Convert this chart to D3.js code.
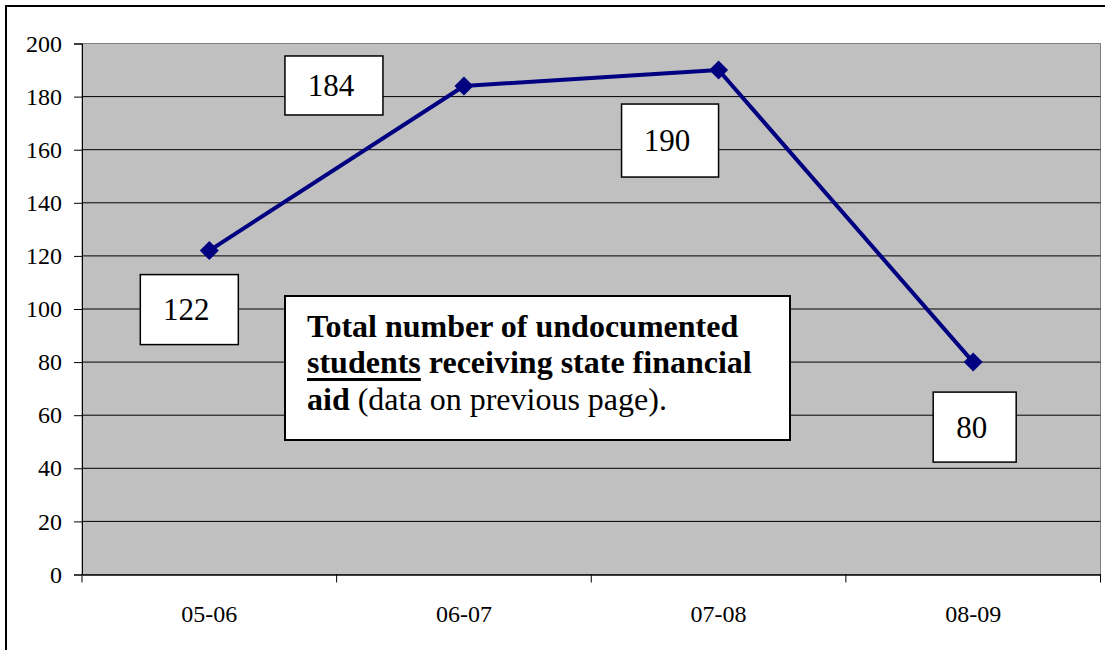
<!DOCTYPE html>
<html>
<head>
<meta charset="utf-8">
<script src="https://cdn.jsdelivr.net/npm/d3@7"></script>
<style>
  html, body { margin: 0; padding: 0; background: #fff; }
  svg { display: block; }
  text { font-family: "Liberation Serif", "Times New Roman", serif; fill: #000; }
</style>
</head>
<body>
<svg id="chart" width="1110" height="650"></svg>
<script>
// School years and number of undocumented students receiving state aid
const years = ["05-06", "06-07", "07-08", "08-09"];
const students = [122, 184, 190, 80];
const yTicks = [0, 20, 40, 60, 80, 100, 120, 140, 160, 180, 200];

// Where each value callout sits relative to its point (left, top, width, height)
const calloutPlacement = [
  { dx: -69, dy: 24, w: 98, h: 70 },
  { dx: -179, dy: -30, w: 98, h: 59 },
  { dx: -97, dy: 34, w: 97, h: 73 },
  { dx: -40, dy: 30, w: 83, h: 70 }
];

const svg = d3.select("#chart");
const plot = { left: 82, right: 1100.5, top: 43.5, bottom: 574.5 };

const x = d3.scaleBand().domain(years).range([plot.left, plot.right]).padding(0);
const y = d3.scaleLinear().domain([0, 200]).range([plot.bottom, plot.top]);

// Outer frame (only the top and left edges fall inside the page)
svg.append("line").attr("x1", 6).attr("x2", 1105).attr("y1", 6).attr("y2", 6)
  .attr("stroke", "#000").attr("stroke-width", 2);
svg.append("line").attr("x1", 6).attr("x2", 6).attr("y1", 5).attr("y2", 650)
  .attr("stroke", "#000").attr("stroke-width", 2);

// Plot area
svg.append("rect")
  .attr("x", plot.left).attr("y", plot.top)
  .attr("width", plot.right - plot.left).attr("height", plot.bottom - plot.top)
  .attr("fill", "#c0c0c0").attr("stroke", "#808080").attr("stroke-width", 1);

// Horizontal gridlines
svg.append("g").selectAll("line")
  .data(yTicks.filter(v => v > 0 && v < 200))
  .join("line")
  .attr("x1", plot.left).attr("x2", plot.right)
  .attr("y1", d => y(d)).attr("y2", d => y(d))
  .attr("stroke", "#000").attr("stroke-width", 1);

// Y axis
const yAxis = svg.append("g")
  .attr("transform", `translate(${plot.left},0)`)
  .call(d3.axisLeft(y).tickValues(yTicks).tickSize(8).tickPadding(12));
yAxis.select(".domain").attr("stroke", "#000");
yAxis.selectAll(".tick line").attr("stroke", "#000");
yAxis.selectAll("text")
  .style("font-family", "'Liberation Serif', serif").style("font-size", "24px").attr("fill", "#000");

// X axis: category labels centred, ticks at the category boundaries
const xAxis = svg.append("g")
  .attr("transform", `translate(0,${plot.bottom})`)
  .call(d3.axisBottom(x).tickSize(0).tickPadding(30));
xAxis.select(".domain").attr("stroke", "#000").attr("stroke-width", 1.5);
xAxis.selectAll("text")
  .style("font-family", "'Liberation Serif', serif").style("font-size", "24px").attr("fill", "#000");
const edges = years.map(d => x(d)).concat([x(years[years.length - 1]) + x.bandwidth()]);
svg.append("g").selectAll("line")
  .data(edges)
  .join("line")
  .attr("x1", d => d).attr("x2", d => d)
  .attr("y1", plot.bottom).attr("y2", plot.bottom + 8)
  .attr("stroke", "#000").attr("stroke-width", 1);

// Series line
const pts = years.map((d, i) => ({ year: d, value: students[i], px: x(d) + x.bandwidth() / 2, py: y(students[i]) }));
svg.append("path")
  .datum(pts)
  .attr("fill", "none")
  .attr("stroke", "#000080")
  .attr("stroke-width", 4)
  .attr("stroke-linejoin", "round")
  .attr("d", d3.line().x(d => d.px).y(d => d.py));

// Diamond markers
svg.append("g").selectAll("path")
  .data(pts)
  .join("path")
  .attr("transform", d => `translate(${d.px},${d.py})`)
  .attr("d", "M0,-9.5L9.5,0L0,9.5L-9.5,0Z")
  .attr("fill", "#000080");

// Value callouts
const callouts = svg.append("g").selectAll("g")
  .data(pts)
  .join("g")
  .attr("transform", (d, i) => `translate(${d.px + calloutPlacement[i].dx},${d.py + calloutPlacement[i].dy})`);
callouts.append("rect")
  .attr("width", (d, i) => calloutPlacement[i].w)
  .attr("height", (d, i) => calloutPlacement[i].h)
  .attr("fill", "#fff").attr("stroke", "#000").attr("stroke-width", 1.5);
callouts.append("text")
  .attr("x", (d, i) => calloutPlacement[i].w / 2 - 3)
  .attr("y", (d, i) => calloutPlacement[i].h / 2)
  .attr("dy", "0.35em")
  .attr("text-anchor", "middle")
  .style("font-size", "31px")
  .text(d => d.value);

// Description box
const note = svg.append("g").attr("transform", "translate(285,296)");
note.append("rect").attr("width", 505).attr("height", 144)
  .attr("fill", "#fff").attr("stroke", "#000").attr("stroke-width", 2);
note.append("text").style("font-size", "32px").style("font-weight", "bold")
  .attr("x", 22).attr("y", 41)
  .text("Total number of undocumented");
const l2 = note.append("text").style("font-size", "32px").style("font-weight", "bold")
  .attr("x", 22).attr("y", 77);
const under = l2.append("tspan").text("students");
l2.append("tspan").text(" receiving state financial");
// Heavy underline beneath "students"
note.append("rect")
  .attr("x", 22).attr("y", 82)
  .attr("width", under.node().getComputedTextLength())
  .attr("height", 3)
  .attr("fill", "#000");
const l3 = note.append("text").style("font-size", "32px").attr("x", 22).attr("y", 114);
l3.append("tspan").style("font-weight", "bold").text("aid");
l3.append("tspan").text(" (data on previous page).");
</script>
</body>
</html>
